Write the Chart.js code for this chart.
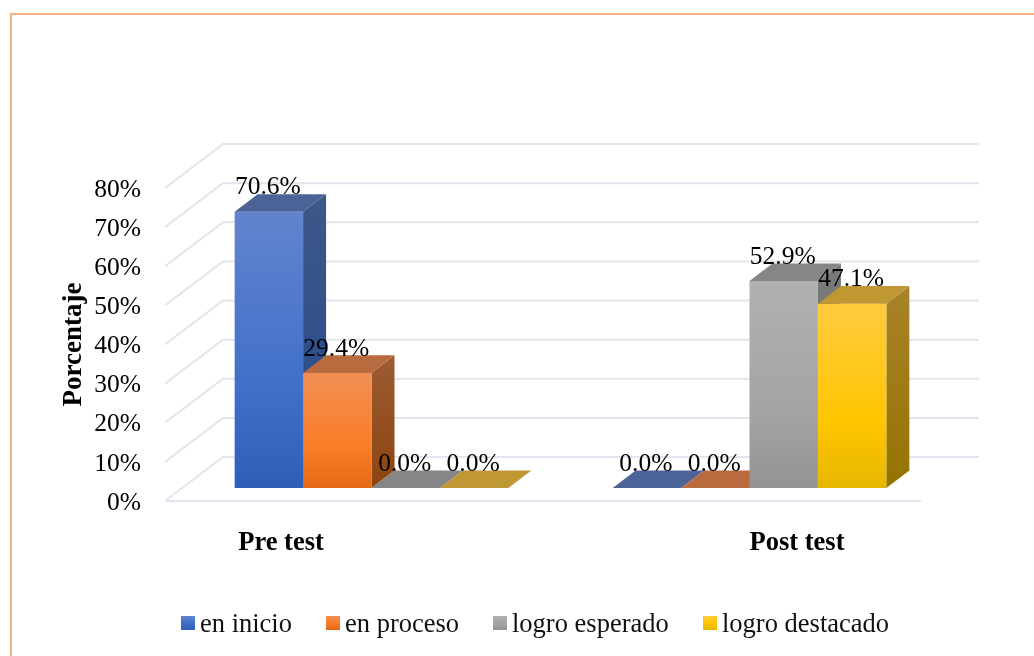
<!DOCTYPE html>
<html>
<head>
<meta charset="utf-8">
<script src="https://cdn.jsdelivr.net/npm/chart.js@4"></script>
<style>
    body { margin: 0; background: #fff; }
    #wrap { position: relative; width: 1034px; height: 656px; overflow: hidden; }
    #frame { position: absolute; left: 10px; top: 13px; right: -5px; bottom: -5px; border: 2px solid #F4B183; }
    #c1 { position: absolute; left: 0; top: 0; }
    #legend { position: absolute; left: 0; top: 0; font: 26.5px "Liberation Serif", serif; color: #111; }
    #legend span { position: absolute; top: 606px; white-space: nowrap; line-height: 34px; }
    #legend i { position: absolute; top: 616px; width: 14px; height: 14px; }
</style>
</head>
<body>
<div id="wrap">
    <div id="frame"></div>
    <canvas id="c1" width="1034" height="656"></canvas>
    <div id="legend"></div>
</div>
<script>
const categories = ['Pre test', 'Post test'];
const seriesNames = ['en inicio', 'en proceso', 'logro esperado', 'logro destacado'];
const enInicio = [70.6, 0];
const enProceso = [29.4, 0];
const logroEsperado = [0, 52.9];
const logroDestacado = [0, 47.1];
const yTicksMax = 80;

// front gradient, side gradient and top colour of each series
const frontColors = [
    ['#6284CE', '#3F6FC9', '#2E5FB8'],
    ['#F28F55', '#F97C26', '#E36A17'],
    ['#B1B1B1', '#A3A3A3', '#939393'],
    ['#FFCB40', '#FFC600', '#E6B600']
];
const sideColors = [
    ['#3F5788', '#234A8D'],
    ['#9C5B33', '#8C4510'],
    ['#7A7A7A', '#6E6E6E'],
    ['#A8832A', '#947300']
];
const topColors = ['#4C6397', '#B96B40', '#868686', '#BF9834'];
const legendBoxX = [181, 326, 493, 703];
const legendTextX = [200, 345, 512, 722];

const serif = '"Liberation Serif", serif';
const wallDx = 58, wallDy = 44;   // front of floor to back wall
const barDx = 17.5, barDy = 13;   // front of floor to front of bars
const depthDx = 23, depthDy = 17.6;
const categoryShift = [-73, 65];  // axis labels are not centred under the groups

function face(ctx, pts, fill) {
    ctx.fillStyle = fill;
    ctx.beginPath();
    pts.forEach((p, i) => i ? ctx.lineTo(p[0], p[1]) : ctx.moveTo(p[0], p[1]));
    ctx.closePath();
    ctx.fill();
}

function drawBox(ctx, bar, i) {
    const l = bar.x - bar.width / 2 + barDx;
    const r = bar.x + bar.width / 2 + barDx;
    const t = bar.y - barDy;
    const b = bar.base - barDy;

    if (b - t > 0.5) {
        let g = ctx.createLinearGradient(0, t - depthDy, 0, b);
        g.addColorStop(0, sideColors[i][0]);
        g.addColorStop(1, sideColors[i][1]);
        face(ctx, [[r, t], [r + depthDx, t - depthDy], [r + depthDx, b - depthDy], [r, b]], g);

        g = ctx.createLinearGradient(0, t, 0, b);
        g.addColorStop(0, frontColors[i][0]);
        g.addColorStop(0.65, frontColors[i][1]);
        g.addColorStop(1, frontColors[i][2]);
        face(ctx, [[l, t], [r, t], [r, b], [l, b]], g);
    }
    face(ctx, [[l, t], [l + depthDx, t - depthDy], [r + depthDx, t - depthDy], [r, t]], topColors[i]);
}

const box3d = {
    id: 'box3d',
    beforeDatasetsDraw(chart) {
        const ctx = chart.ctx;
        const y = chart.scales.y;
        const a = chart.chartArea;
        ctx.save();
        ctx.strokeStyle = '#E2E5ED';
        ctx.lineWidth = 2;
        y.ticks.forEach(tick => {
            const py = y.getPixelForValue(tick.value);
            ctx.beginPath();
            ctx.moveTo(a.left, py);
            ctx.lineTo(a.left + wallDx, py - wallDy);
            ctx.lineTo(a.right + wallDx, py - wallDy);
            ctx.stroke();
        });
        ctx.beginPath();
        ctx.moveTo(a.left, a.bottom);
        ctx.lineTo(a.right, a.bottom);
        ctx.stroke();
        ctx.restore();
        // first series at the back, so each later bar covers the side of the one before
        chart.data.datasets.forEach((ds, i) => {
            chart.getDatasetMeta(i).data.forEach(bar => drawBox(ctx, bar, i));
        });
    },
    beforeDatasetDraw() {
        return false;
    },
    afterDatasetsDraw(chart) {
        const ctx = chart.ctx;
        ctx.save();
        ctx.fillStyle = '#000';
        ctx.textAlign = 'center';
        ctx.textBaseline = 'middle';
        ctx.font = '25.5px ' + serif;
        chart.data.datasets.forEach((ds, i) => {
            chart.getDatasetMeta(i).data.forEach((bar, j) => {
                ctx.fillText(ds.data[j].toFixed(1) + '%', bar.x + barDx - 1, bar.y - barDy - 24);
            });
        });
        ctx.font = 'bold 26.5px ' + serif;
        const x = chart.scales.x;
        categories.forEach((name, j) => {
            ctx.fillText(name, x.getPixelForValue(j) + categoryShift[j], 543);
        });
        ctx.restore();
    }
};

const seriesValues = [enInicio, enProceso, logroEsperado, logroDestacado];

new Chart(document.getElementById('c1'), {
    type: 'bar',
    data: {
        labels: categories,
        datasets: seriesNames.map((name, i) => ({
            label: name,
            data: seriesValues[i],
            backgroundColor: frontColors[i][1],
            categoryPercentage: 0.724,
            barPercentage: 1
        }))
    },
    plugins: [box3d],
    options: {
        responsive: false,
        animation: false,
        layout: { padding: { top: 188, right: 113, bottom: 155, left: 0 } },
        plugins: {
            legend: { display: false },
            tooltip: { enabled: false }
        },
        scales: {
            x: {
                grid: { display: false },
                border: { display: false },
                ticks: { display: false },
                afterFit: function (scale) { scale.height = 0; }
            },
            y: {
                min: 0,
                max: yTicksMax,
                afterFit: function (scale) { scale.width = 165; },
                grid: { display: false, drawTicks: false },
                border: { display: false },
                ticks: {
                    stepSize: 10,
                    padding: 24,
                    labelOffset: 2,
                    color: '#000',
                    font: { family: serif, size: 25.5 },
                    callback: function (value) { return value + '%'; }
                },
                title: {
                    display: true,
                    text: 'Porcentaje',
                    color: '#000',
                    padding: { top: 58, bottom: 0 },
                    font: { family: serif, size: 27, weight: 'bold' }
                }
            }
        }
    }
});

const legend = document.getElementById('legend');
seriesNames.forEach((name, i) => {
    const box = document.createElement('i');
    box.style.left = legendBoxX[i] + 'px';
    box.style.background = 'linear-gradient(' + frontColors[i].join(',') + ')';
    legend.appendChild(box);
    const text = document.createElement('span');
    text.style.left = legendTextX[i] + 'px';
    text.textContent = name;
    legend.appendChild(text);
});
</script>
</body>
</html>
